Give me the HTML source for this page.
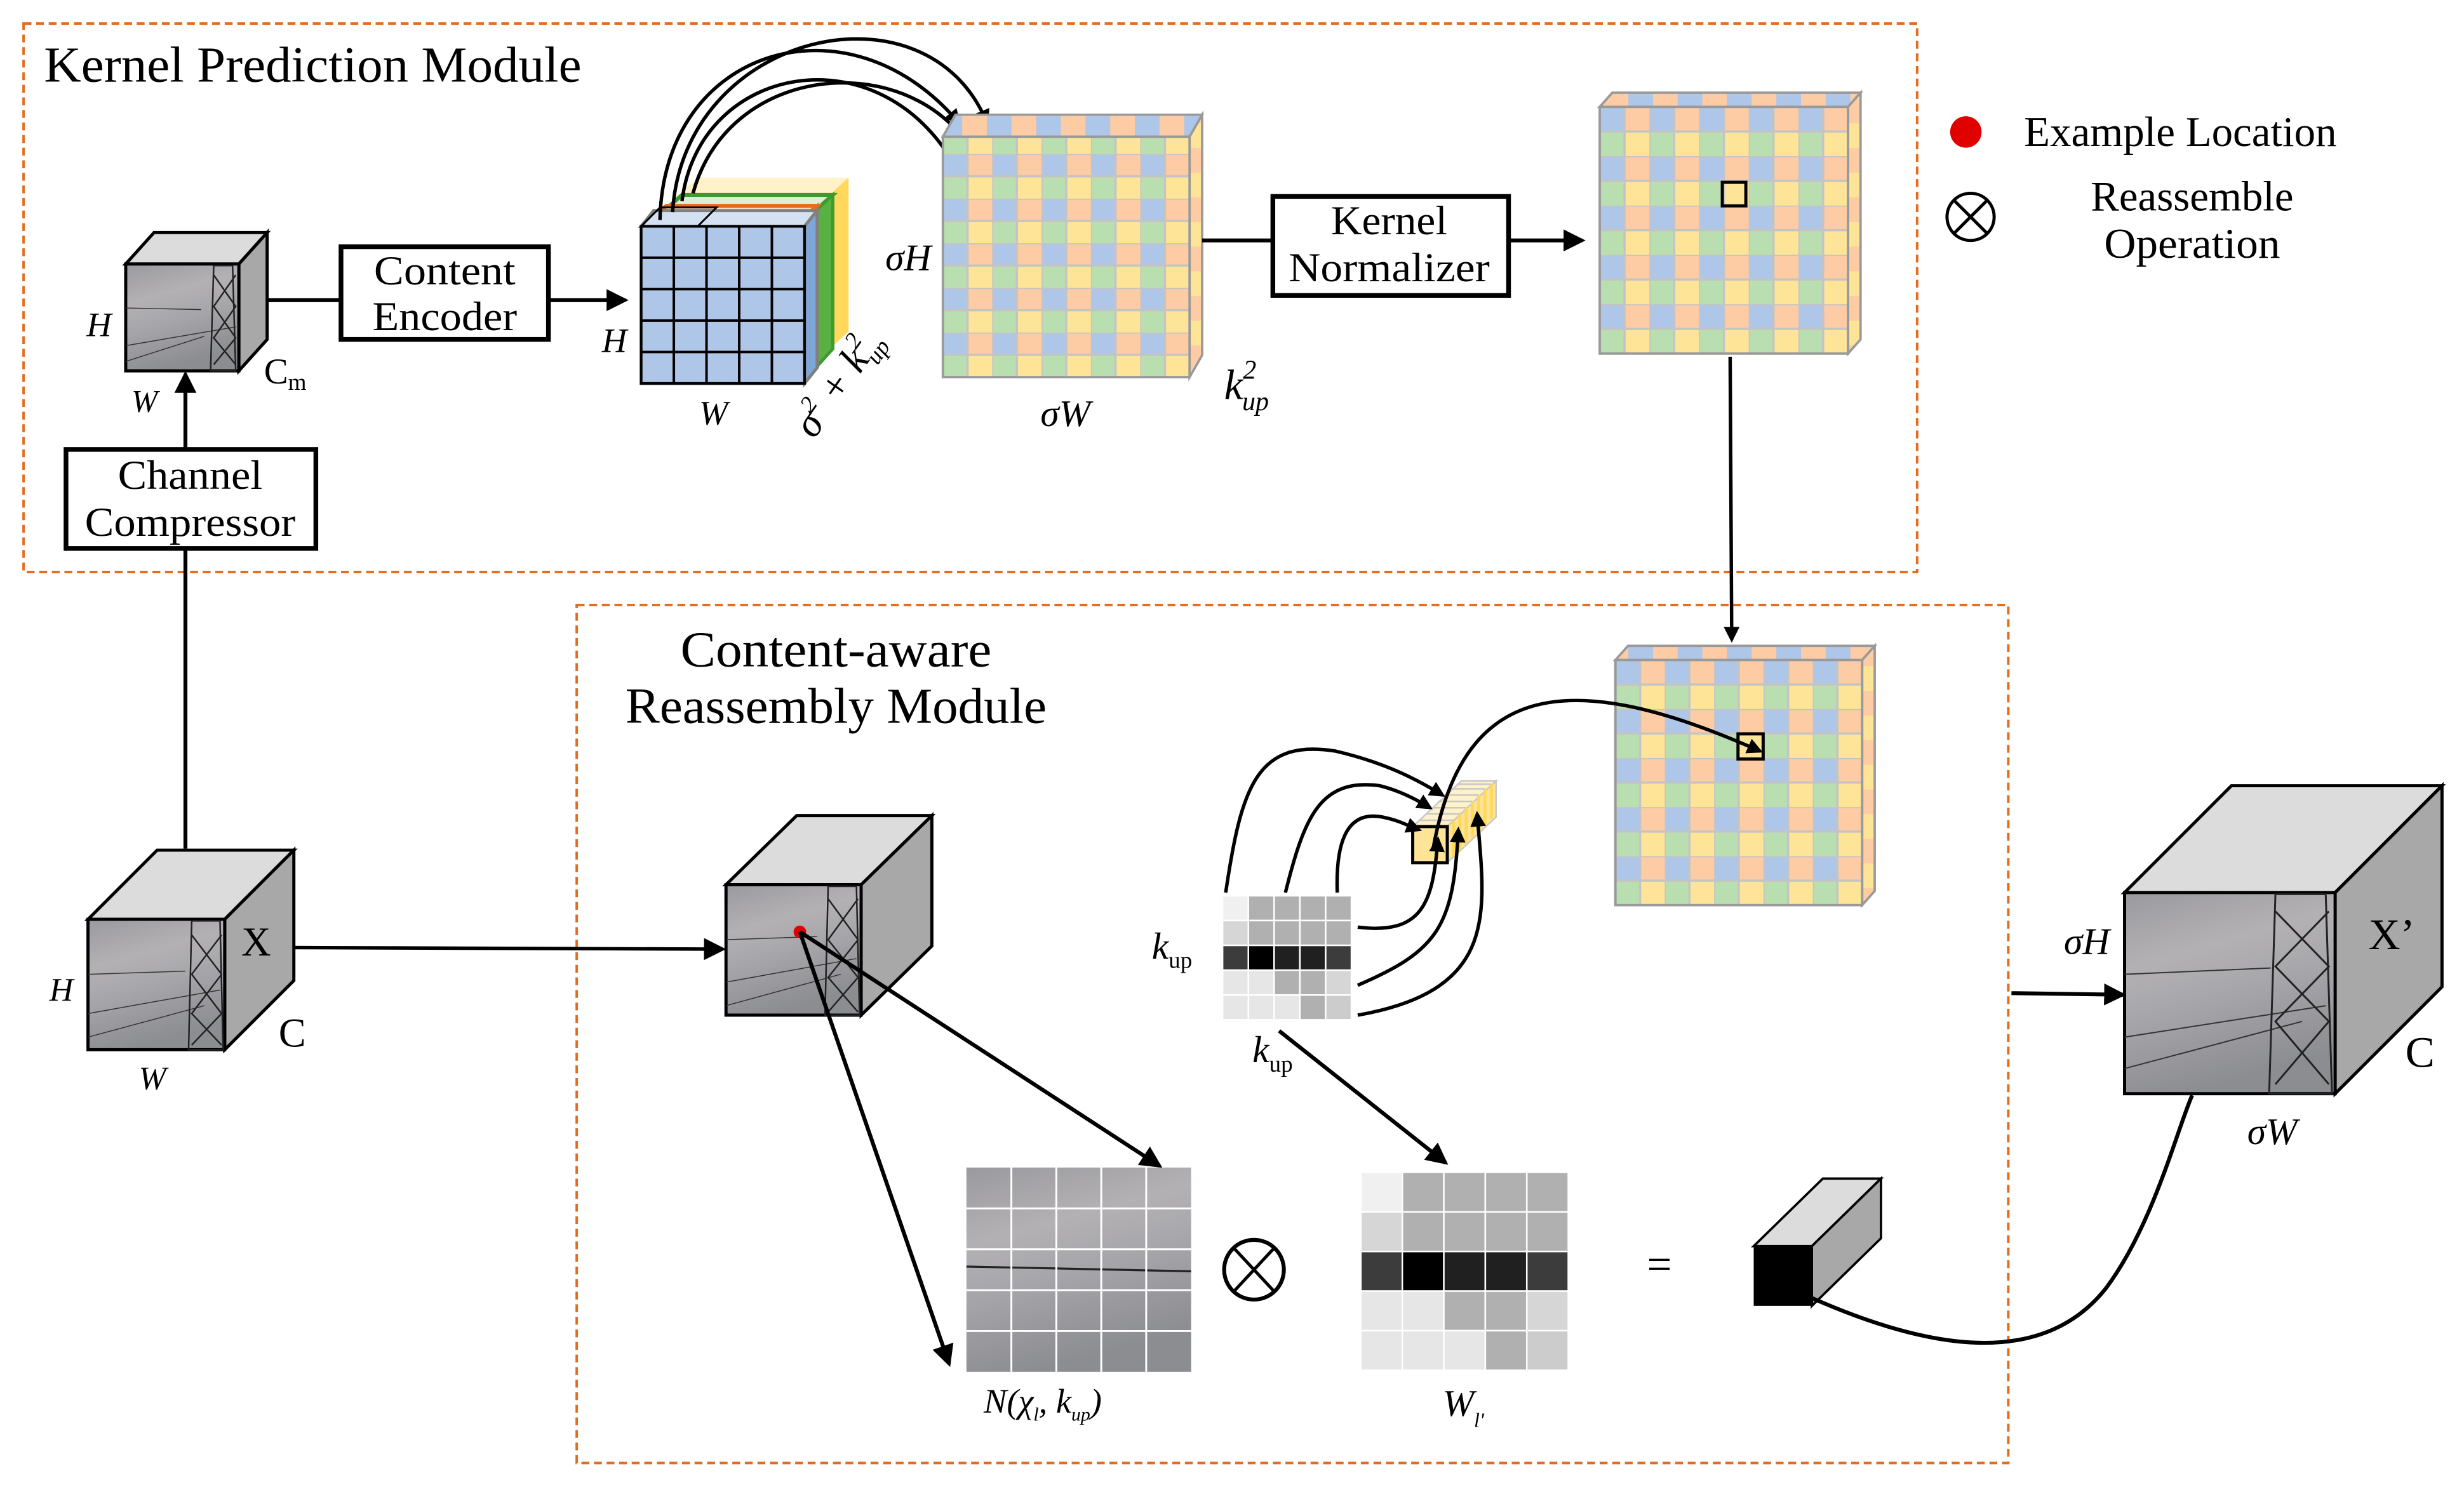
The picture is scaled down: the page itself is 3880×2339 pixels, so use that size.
<!DOCTYPE html>
<html><head><meta charset="utf-8"><style>
html,body{margin:0;padding:0;background:#fff}
svg{display:block}
text{font-family:"Liberation Serif",serif;fill:#000}
.it{font-style:italic}
</style></head><body>
<svg width="3880" height="2339" viewBox="0 0 1568 945" preserveAspectRatio="none" xmlns="http://www.w3.org/2000/svg">
<defs>
<marker id="ah" markerWidth="10" markerHeight="10" refX="8" refY="5" orient="auto" markerUnits="userSpaceOnUse">
<path d="M0,0 L10,5 L0,10 z" fill="#000"/></marker>
<marker id="ah2" markerWidth="14" markerHeight="14" refX="12" refY="7" orient="auto" markerUnits="userSpaceOnUse">
<path d="M0,0 L14,7 L0,14 z" fill="#000"/></marker>
<linearGradient id="sky" x1="0" y1="0" x2="0.3" y2="1">
<stop offset="0" stop-color="#9a999d"/><stop offset="0.35" stop-color="#b3b1b4"/><stop offset="0.6" stop-color="#a6a5a9"/><stop offset="1" stop-color="#8c8d91"/></linearGradient>
<pattern id="g1" patternUnits="userSpaceOnUse" x="600" y="98" width="31.4" height="28.4">
<rect x="0" y="0" width="15.7" height="14.2" fill="#aec6e8"/><rect x="15.7" y="0" width="15.7" height="14.2" fill="#fdcba4"/>
<rect x="0" y="14.2" width="15.7" height="14.2" fill="#b9dfb0"/><rect x="15.7" y="14.2" width="15.7" height="14.2" fill="#fee497"/>
<path d="M0,0H31.4M0,14.2H31.4M0,0V28.4M15.7,0V28.4" stroke="#c4c4c4" stroke-width="1.4"/></pattern>
<pattern id="g2" patternUnits="userSpaceOnUse" x="1018" y="68" width="31.6" height="31.4">
<rect x="0" y="0" width="15.8" height="15.7" fill="#aec6e8"/><rect x="15.8" y="0" width="15.8" height="15.7" fill="#fdcba4"/>
<rect x="0" y="15.7" width="15.8" height="15.7" fill="#b9dfb0"/><rect x="15.8" y="15.7" width="15.8" height="15.7" fill="#fee497"/>
<path d="M0,0H31.6M0,15.7H31.6M0,0V31.4M15.8,0V31.4" stroke="#c4c4c4" stroke-width="1.4"/></pattern>
<pattern id="g3" patternUnits="userSpaceOnUse" x="1028" y="420" width="31.4" height="31.2">
<rect x="0" y="0" width="15.7" height="15.6" fill="#aec6e8"/><rect x="15.7" y="0" width="15.7" height="15.6" fill="#fdcba4"/>
<rect x="0" y="15.6" width="15.7" height="15.6" fill="#b9dfb0"/><rect x="15.7" y="15.6" width="15.7" height="15.6" fill="#fee497"/>
<path d="M0,0H31.4M0,15.6H31.4M0,0V31.2M15.7,0V31.2" stroke="#c4c4c4" stroke-width="1.4"/></pattern>
<pattern id="stripT" patternUnits="userSpaceOnUse" width="31.4" height="20">
<rect width="15.7" height="20" fill="#aec6e8"/><rect x="15.7" width="15.7" height="20" fill="#fdcba4"/></pattern>
<pattern id="stripS" patternUnits="userSpaceOnUse" width="20" height="31.4">
<rect width="20" height="15.7" fill="#fdcba4"/><rect y="15.7" width="20" height="15.7" fill="#fee497"/></pattern>
</defs>

<rect x="15" y="15" width="1205" height="349" fill="none" stroke="#e46c1f" stroke-width="1.6" stroke-dasharray="5,3"/>
<rect x="367" y="385" width="911" height="546" fill="none" stroke="#e46c1f" stroke-width="1.6" stroke-dasharray="5,3"/>
<text x="28" y="52" font-size="32" textLength="342" lengthAdjust="spacingAndGlyphs">Kernel Prediction Module</text>
<text x="532" y="424" font-size="32" text-anchor="middle" textLength="198" lengthAdjust="spacingAndGlyphs">Content-aware</text>
<text x="532" y="460" font-size="32" text-anchor="middle" textLength="268" lengthAdjust="spacingAndGlyphs">Reassembly Module</text>

<circle cx="1251" cy="84" r="10" fill="#e00000"/>
<text x="1288" y="93" font-size="27" textLength="199" lengthAdjust="spacingAndGlyphs">Example Location</text>
<circle cx="1254" cy="138" r="15" fill="none" stroke="#000" stroke-width="2"/>
<path d="M1243,127L1265,149M1265,127L1243,149" stroke="#000" stroke-width="2"/>
<text x="1395" y="134" font-size="27" text-anchor="middle" textLength="129" lengthAdjust="spacingAndGlyphs">Reassemble</text>
<text x="1395" y="164" font-size="27" text-anchor="middle" textLength="112" lengthAdjust="spacingAndGlyphs">Operation</text>

<!-- small Cm cube -->
<polygon points="80,168 98,148 170,148 152,168" fill="#dcdcdc" stroke="#000" stroke-width="2"/>
<polygon points="152,168 170,148 170,216 152,236" fill="#a8a8a8" stroke="#000" stroke-width="2"/>
<rect x="80" y="168" width="72" height="68" fill="url(#sky)" stroke="#000" stroke-width="2"/>
<g fill="none" stroke="#333" stroke-width="0.6"><path d="M80,196 L128,197 M80,230 L130,214 M80,220 L150,208"/></g>
<g fill="none" stroke="#222" stroke-width="1"><path d="M136,169 L148,169 L150,236 L134,236 Z M136,175 L150,195 L136,215 L150,232 M150,175 L136,195 L150,215 L136,232"/></g>
<text x="63" y="214" font-size="22" class="it" text-anchor="middle">H</text>
<text x="92" y="262" font-size="20" class="it" text-anchor="middle">W</text>
<text x="168" y="244" font-size="23">C<tspan font-size="15" dy="4">m</tspan></text>

<line x1="170" y1="191" x2="217" y2="191" stroke="#000" stroke-width="2.5"/>
<rect x="217" y="157" width="132" height="59" fill="#fff" stroke="#000" stroke-width="3"/>
<text x="283" y="181" font-size="26" text-anchor="middle" textLength="90" lengthAdjust="spacingAndGlyphs">Content</text>
<text x="283" y="210" font-size="26" text-anchor="middle" textLength="92" lengthAdjust="spacingAndGlyphs">Encoder</text>
<line x1="349" y1="191" x2="398" y2="191" stroke="#000" stroke-width="2.5" marker-end="url(#ah2)"/>
<line x1="118" y1="540" x2="118" y2="238" stroke="#000" stroke-width="2.5" marker-end="url(#ah2)"/>
<rect x="42" y="286" width="159" height="63" fill="#fff" stroke="#000" stroke-width="3"/>
<text x="121" y="311" font-size="26" text-anchor="middle" textLength="92" lengthAdjust="spacingAndGlyphs">Channel</text>
<text x="121" y="341" font-size="26" text-anchor="middle" textLength="134" lengthAdjust="spacingAndGlyphs">Compressor</text>

<!-- blue cube with layers -->
<polygon points="432,124 444,113 540,113 528,124" fill="#fff1c8"/>
<rect x="432" y="124" width="96" height="98" fill="#fee497"/>
<polygon points="528,124 540,113 540,211 528,222" fill="#ffd85c"/>
<polygon points="424,133 434,124 530,124 520,133" fill="#dcefd4" stroke="#3d9a2c" stroke-width="2.5"/>
<rect x="424" y="133" width="96" height="100" fill="#b9dfb0" stroke="#3d9a2c" stroke-width="2.5"/>
<polygon points="520,133 530,124 530,222 520,233" fill="#59b043" stroke="#3d9a2c" stroke-width="2"/>
<polygon points="416,138 424,131 520,131 512,138" fill="#fde0cc" stroke="#ea6a1a" stroke-width="2.5"/>
<rect x="416" y="138" width="96" height="102" fill="#fdcba4" stroke="#ea6a1a" stroke-width="2.5"/>
<polygon points="512,138 520,131 520,228 512,240" fill="#fba56a" stroke="#ea6a1a" stroke-width="2"/>
<polygon points="408,144 416,134 520,134 512,144" fill="#d4e1f2" stroke="#808080" stroke-width="2"/>
<polygon points="512,144 520,134 520,234 512,244" fill="#7ea6d8" stroke="#808080" stroke-width="2"/>
<rect x="408" y="144" width="104" height="100" fill="#aec6e8" stroke="#808080" stroke-width="2"/>
<path d="M428.8,144V244M449.6,144V244M470.4,144V244M491.2,144V244M408,164H512M408,184H512M408,204H512M408,224H512M408,144H512V244H408Z" stroke="#000" stroke-width="1.6" fill="none"/>
<polygon points="408,144 420,132 456,132 444,144" fill="none" stroke="#000" stroke-width="1.2"/>
<text x="391" y="224" font-size="22" class="it" text-anchor="middle">H</text>
<text x="454" y="270" font-size="22" class="it" text-anchor="middle">W</text>
<text x="0" y="0" font-size="26" class="it" transform="translate(518,280) rotate(-55)">σ<tspan font-size="15" dy="-11">2</tspan><tspan dy="11"> + k</tspan><tspan font-size="15" dy="-11">2</tspan><tspan font-size="15" dx="-8" dy="17">up</tspan></text>

<g fill="none" stroke="#000" stroke-width="2.2" marker-end="url(#ah)">
<path d="M420,140 C422,30 540,-5 610,78"/>
<path d="M428,135 C435,20 590,-15 628,78"/>
<path d="M434,128 C445,40 560,20 608,106"/>
<path d="M441,123 C465,35 590,30 624,106"/>
</g>

<!-- grid1 -->
<polygon points="600,87 608,73 765,73 757,87" fill="url(#stripT)" stroke="#999" stroke-width="1.5"/>
<polygon points="757,87 765,73 765,226 757,240" fill="url(#stripS)" stroke="#999" stroke-width="1.5"/>
<rect x="600" y="87" width="157" height="153" fill="url(#g1)" stroke="#999" stroke-width="1.5"/>
<text x="578" y="172" font-size="24" class="it" text-anchor="middle">σH</text>
<text x="678" y="271" font-size="24" class="it" text-anchor="middle">σW</text>
<text x="779" y="254" font-size="27" class="it">k<tspan font-size="17" dy="-13">2</tspan><tspan font-size="17" dx="-9" dy="20">up</tspan></text>

<line x1="765" y1="153" x2="810" y2="153" stroke="#000" stroke-width="2.5"/>
<rect x="810" y="125" width="150" height="63" fill="#fff" stroke="#000" stroke-width="3"/>
<text x="884" y="149" font-size="26" text-anchor="middle" textLength="74" lengthAdjust="spacingAndGlyphs">Kernel</text>
<text x="884" y="179" font-size="26" text-anchor="middle" textLength="128" lengthAdjust="spacingAndGlyphs">Normalizer</text>
<line x1="960" y1="153" x2="1007" y2="153" stroke="#000" stroke-width="2.5" marker-end="url(#ah2)"/>

<!-- grid2 -->
<polygon points="1018,68 1026,59 1184,59 1176,68" fill="url(#stripT)" stroke="#999" stroke-width="1.5"/>
<polygon points="1176,68 1184,59 1184,216 1176,225" fill="url(#stripS)" stroke="#999" stroke-width="1.5"/>
<rect x="1018" y="68" width="158" height="157" fill="url(#g2)" stroke="#999" stroke-width="1.5"/>
<rect x="1096" y="116" width="15" height="15" fill="none" stroke="#000" stroke-width="2"/>
<line x1="1101" y1="227" x2="1102" y2="407" stroke="#000" stroke-width="2.2" marker-end="url(#ah)"/>

<!-- grid3 -->
<polygon points="1028,420 1036,411 1193,411 1185,420" fill="url(#stripT)" stroke="#999" stroke-width="1.5"/>
<polygon points="1185,420 1193,411 1193,567 1185,576" fill="url(#stripS)" stroke="#999" stroke-width="1.5"/>
<rect x="1028" y="420" width="157" height="156" fill="url(#g3)" stroke="#999" stroke-width="1.5"/>
<rect x="1106" y="467" width="16" height="16" fill="none" stroke="#000" stroke-width="2"/>

<!-- X cube -->
<polygon points="56,585 100,541 187,541 143,585" fill="#dcdcdc" stroke="#000" stroke-width="2"/>
<polygon points="143,585 187,541 187,624 143,668" fill="#a8a8a8" stroke="#000" stroke-width="2"/>
<rect x="56" y="585" width="87" height="83" fill="url(#sky)" stroke="#000" stroke-width="2"/>
<g fill="none" stroke="#333" stroke-width="0.6"><path d="M56,620 L118,618 M56,660 L130,640 M56,645 L140,630"/></g>
<g fill="none" stroke="#222" stroke-width="1"><path d="M122,586 L140,586 L142,668 L120,668 Z M122,595 L141,620 L122,645 L141,665 M141,595 L122,620 L141,645 L122,665"/></g>
<text x="163" y="608" font-size="26" text-anchor="middle">X</text>
<text x="186" y="666" font-size="26" text-anchor="middle">C</text>
<text x="39" y="637" font-size="21" class="it" text-anchor="middle">H</text>
<text x="97" y="693" font-size="21" class="it" text-anchor="middle">W</text>
<line x1="187" y1="603" x2="460" y2="604" stroke="#000" stroke-width="2.2" marker-end="url(#ah2)"/>

<!-- middle cube -->
<polygon points="462,563 507,519 593,519 548,563" fill="#dcdcdc" stroke="#000" stroke-width="2"/>
<polygon points="548,563 593,519 593,602 548,646" fill="#a8a8a8" stroke="#000" stroke-width="2"/>
<rect x="462" y="563" width="86" height="83" fill="url(#sky)" stroke="#000" stroke-width="2"/>
<g fill="none" stroke="#333" stroke-width="0.6"><path d="M462,598 L520,596 M462,640 L535,620 M462,625 L545,610"/></g>
<g fill="none" stroke="#222" stroke-width="1"><path d="M527,564 L545,564 L547,646 L525,646 Z M527,572 L546,598 L527,622 L546,644 M546,572 L527,598 L546,622 L527,644"/></g>
<circle cx="509" cy="593" r="4" fill="#e00000"/>
<line x1="509" y1="593" x2="738" y2="742" stroke="#000" stroke-width="2.5" marker-end="url(#ah2)"/>
<line x1="509" y1="593" x2="604" y2="868" stroke="#000" stroke-width="2.5" marker-end="url(#ah2)"/>

<!-- k_up grid -->
<g stroke="#fff" stroke-width="1">
<rect x="778" y="570" width="16.4" height="15.8" fill="#f0f0f0"/><rect x="794.4" y="570" width="16.4" height="15.8" fill="#b0b0b0"/><rect x="810.8" y="570" width="16.4" height="15.8" fill="#b0b0b0"/><rect x="827.2" y="570" width="16.4" height="15.8" fill="#b0b0b0"/><rect x="843.6" y="570" width="16.4" height="15.8" fill="#b0b0b0"/>
<rect x="778" y="585.8" width="16.4" height="15.8" fill="#d6d6d6"/><rect x="794.4" y="585.8" width="16.4" height="15.8" fill="#b0b0b0"/><rect x="810.8" y="585.8" width="16.4" height="15.8" fill="#b0b0b0"/><rect x="827.2" y="585.8" width="16.4" height="15.8" fill="#b0b0b0"/><rect x="843.6" y="585.8" width="16.4" height="15.8" fill="#b0b0b0"/>
<rect x="778" y="601.6" width="16.4" height="15.8" fill="#3c3c3c"/><rect x="794.4" y="601.6" width="16.4" height="15.8" fill="#000"/><rect x="810.8" y="601.6" width="16.4" height="15.8" fill="#202020"/><rect x="827.2" y="601.6" width="16.4" height="15.8" fill="#202020"/><rect x="843.6" y="601.6" width="16.4" height="15.8" fill="#3c3c3c"/>
<rect x="778" y="617.4" width="16.4" height="15.8" fill="#e6e6e6"/><rect x="794.4" y="617.4" width="16.4" height="15.8" fill="#e6e6e6"/><rect x="810.8" y="617.4" width="16.4" height="15.8" fill="#b0b0b0"/><rect x="827.2" y="617.4" width="16.4" height="15.8" fill="#b0b0b0"/><rect x="843.6" y="617.4" width="16.4" height="15.8" fill="#d6d6d6"/>
<rect x="778" y="633.2" width="16.4" height="15.8" fill="#e6e6e6"/><rect x="794.4" y="633.2" width="16.4" height="15.8" fill="#e6e6e6"/><rect x="810.8" y="633.2" width="16.4" height="15.8" fill="#e6e6e6"/><rect x="827.2" y="633.2" width="16.4" height="15.8" fill="#b0b0b0"/><rect x="843.6" y="633.2" width="16.4" height="15.8" fill="#cccccc"/>
</g>
<text x="733" y="610" font-size="24" class="it">k<tspan font-size="15" dy="6" font-style="normal">up</tspan></text>
<text x="797" y="676" font-size="24" class="it">k<tspan font-size="15" dy="6" font-style="normal">up</tspan></text>
<line x1="814" y1="656" x2="920" y2="740" stroke="#000" stroke-width="2.5" marker-end="url(#ah2)"/>

<!-- kernel column -->
<polygon points="899,526 921,526 952,497 930,497" fill="#fff1c8" stroke="#c8c8c8" stroke-width="1"/>
<polygon points="921,526 952,497 952,520 921,549" fill="#fee497" stroke="#c8c8c8" stroke-width="1"/>
<path d="M925,522V545M929,518V541M933,514V537M937,510V533M941,506V529M945,502V525M949,499V521" stroke="#ffd85c" stroke-width="2"/>
<path d="M903,522H925M907,518H929M911,514H933M915,510H937M919,506H941M923,502H945M927,499H949" stroke="#c8c8c8" stroke-width="1"/>
<rect x="899" y="526" width="22" height="23" fill="#fee497" stroke="#000" stroke-width="2"/>
<g fill="none" stroke="#000" stroke-width="2.2" marker-end="url(#ah)">
<path d="M780,568 C790,500 800,470 850,478 C880,485 900,495 918,506"/>
<path d="M818,568 C830,520 840,495 878,500 C890,503 900,508 910,514"/>
<path d="M851,568 C850,540 855,515 880,520 C890,522 895,525 903,528"/>
<path d="M864,590 C905,595 912,575 915,534"/>
<path d="M864,627 C915,605 925,590 928,528"/>
<path d="M864,646 C955,630 945,580 940,518"/>
<path d="M912,540 C930,440 990,420 1120,478"/>
</g>

<!-- N grid -->
<rect x="615" y="743" width="143" height="130" fill="url(#sky)"/>
<path d="M615,806 L758,809" stroke="#222" stroke-width="1.3"/>
<path d="M643.6,743V873M672.2,743V873M700.8,743V873M729.4,743V873M615,769H758M615,795H758M615,821H758M615,847H758" stroke="#fff" stroke-width="1.2"/>
<text x="626" y="899" font-size="22" class="it">N(χ<tspan font-size="12" dy="5">l</tspan><tspan dy="-5">, k</tspan><tspan font-size="12" dy="5">up</tspan><tspan dy="-5">)</tspan></text>

<circle cx="798" cy="808" r="19" fill="none" stroke="#000" stroke-width="2.5"/>
<path d="M785,794L811,822M811,794L785,822" stroke="#000" stroke-width="2"/>

<!-- W grid -->
<g stroke="#fff" stroke-width="1">
<rect x="866" y="746" width="26.4" height="25.2" fill="#f0f0f0"/><rect x="892.4" y="746" width="26.4" height="25.2" fill="#b0b0b0"/><rect x="918.8" y="746" width="26.4" height="25.2" fill="#b0b0b0"/><rect x="945.2" y="746" width="26.4" height="25.2" fill="#b0b0b0"/><rect x="971.6" y="746" width="26.4" height="25.2" fill="#b0b0b0"/>
<rect x="866" y="771.2" width="26.4" height="25.2" fill="#d6d6d6"/><rect x="892.4" y="771.2" width="26.4" height="25.2" fill="#b0b0b0"/><rect x="918.8" y="771.2" width="26.4" height="25.2" fill="#b0b0b0"/><rect x="945.2" y="771.2" width="26.4" height="25.2" fill="#b0b0b0"/><rect x="971.6" y="771.2" width="26.4" height="25.2" fill="#b0b0b0"/>
<rect x="866" y="796.4" width="26.4" height="25.2" fill="#3c3c3c"/><rect x="892.4" y="796.4" width="26.4" height="25.2" fill="#000"/><rect x="918.8" y="796.4" width="26.4" height="25.2" fill="#202020"/><rect x="945.2" y="796.4" width="26.4" height="25.2" fill="#202020"/><rect x="971.6" y="796.4" width="26.4" height="25.2" fill="#3c3c3c"/>
<rect x="866" y="821.6" width="26.4" height="25.2" fill="#e6e6e6"/><rect x="892.4" y="821.6" width="26.4" height="25.2" fill="#e6e6e6"/><rect x="918.8" y="821.6" width="26.4" height="25.2" fill="#b0b0b0"/><rect x="945.2" y="821.6" width="26.4" height="25.2" fill="#b0b0b0"/><rect x="971.6" y="821.6" width="26.4" height="25.2" fill="#d6d6d6"/>
<rect x="866" y="846.8" width="26.4" height="25.2" fill="#e6e6e6"/><rect x="892.4" y="846.8" width="26.4" height="25.2" fill="#e6e6e6"/><rect x="918.8" y="846.8" width="26.4" height="25.2" fill="#e6e6e6"/><rect x="945.2" y="846.8" width="26.4" height="25.2" fill="#b0b0b0"/><rect x="971.6" y="846.8" width="26.4" height="25.2" fill="#cccccc"/>
</g>
<text x="918" y="901" font-size="24" class="it">W<tspan font-size="13" dy="7">l'</tspan></text>

<text x="1056" y="814" font-size="28" text-anchor="middle">=</text>

<!-- small black cube -->
<polygon points="1116,793 1160,750 1197,750 1153,793" fill="#dcdcdc" stroke="#000" stroke-width="1.5"/>
<polygon points="1153,793 1197,750 1197,788 1153,831" fill="#a8a8a8" stroke="#000" stroke-width="1.5"/>
<rect x="1116" y="793" width="37" height="38" fill="#000"/>
<path d="M1153,826 C1230,860 1300,870 1340,820 C1370,780 1385,720 1395,697" fill="none" stroke="#000" stroke-width="2.5"/>

<!-- X' cube -->
<polygon points="1352,568 1420,500 1554,500 1486,568" fill="#dcdcdc" stroke="#000" stroke-width="2"/>
<polygon points="1486,568 1554,500 1554,628 1486,696" fill="#a8a8a8" stroke="#000" stroke-width="2"/>
<rect x="1352" y="568" width="134" height="128" fill="url(#sky)" stroke="#000" stroke-width="2"/>
<g fill="none" stroke="#333" stroke-width="0.8"><path d="M1352,620 L1445,616 M1352,680 L1465,650 M1352,660 L1480,640"/></g>
<g fill="none" stroke="#222" stroke-width="1.2"><path d="M1448,569 L1480,569 L1484,696 L1444,696 Z M1448,580 L1482,615 L1448,650 L1482,690 M1482,580 L1448,615 L1482,650 L1448,690"/></g>
<text x="1328" y="607" font-size="24" class="it" text-anchor="middle">σH</text>
<text x="1522" y="604" font-size="28" text-anchor="middle">X’</text>
<text x="1540" y="679" font-size="28" text-anchor="middle">C</text>
<text x="1446" y="728" font-size="24" class="it" text-anchor="middle">σW</text>
<line x1="1280" y1="632" x2="1351" y2="633" stroke="#000" stroke-width="2.5" marker-end="url(#ah2)"/>
</svg>
</body></html>
